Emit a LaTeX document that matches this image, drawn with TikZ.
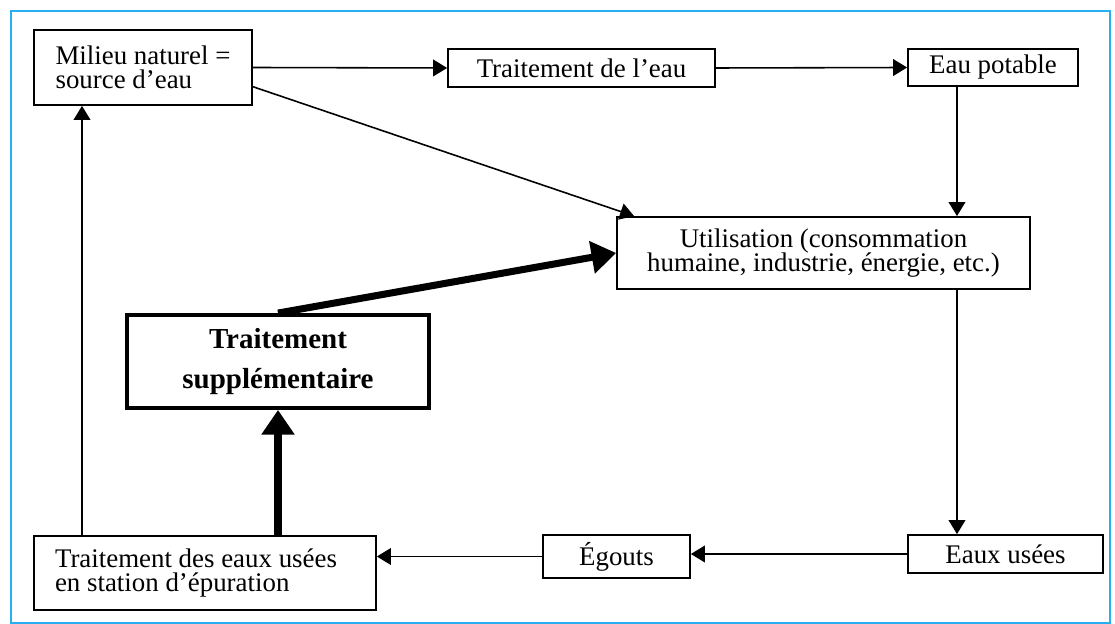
\documentclass[tikz,border=0pt]{standalone}
\usepackage{fontspec}
\setmainfont{Liberation Serif}
\usetikzlibrary{arrows.meta,calc}
\definecolor{framecyan}{RGB}{40,175,240}
\tikzset{
	box/.style={draw, line width=1pt, inner sep=0pt, align=center,
		font=\fontsize{15.3}{14}\selectfont},
	bigbox/.style={draw, line width=2.2pt, inner sep=0pt, align=center,
		font=\bfseries\fontsize{16.5}{23}\selectfont},
	flow/.style={->, line width=0.9pt},
	bigflow/.style={-{Triangle[length=14pt,width=18pt]}, line width=4pt},
}

\begin{document}
\begin{tikzpicture}[>={Triangle[length=8pt,width=9.5pt]}, x=0.02cm, y=-0.02cm]
\useasboundingbox (0,0) rectangle (1115,624);
% the shapes
\node[box, align=flush left, minimum width=4.36cm, minimum height=1.5cm] at (143,67.5) (milieu) {Milieu naturel =\\source d’eau};
\node[box, minimum width=5.34cm, minimum height=0.76cm] at (581.5,68) (eau) {Traitement de l’eau};
\node[box, minimum width=3.4cm, minimum height=0.74cm] at (993,67.5) (potable) {Eau potable};
\node[box, minimum width=8.26cm, minimum height=1.44cm] at (823.5,253) (util) {Utilisation (consommation\\humaine, industrie, énergie, etc.)};
\node[bigbox, minimum width=6.04cm, minimum height=1.86cm] at (278,361.5) (supp) {Traitement\\supplémentaire};
\node[box, align=flush left, text width=6cm, minimum width=6.84cm, minimum height=1.48cm] at (205,573) (station) {Traitement des eaux usées\\en station d’épuration};
\node[box, minimum width=2.94cm, minimum height=0.86cm] at (616.5,556.5) (egouts) {Égouts};
\node[box, minimum width=3.9cm, minimum height=0.76cm] at (1005.5,554) (usees) {Eaux usées};
\coordinate (right) at (957,300);
\coordinate (left) at (82,300);

% the arrows
\draw[flow] (milieu.east) -- (eau.west);
\draw[flow] (eau.east) -- (potable.west);
\draw[flow] (potable.south -| right) -- (util.north -| right);
\draw[flow] ($(milieu.east)!.5!(milieu.south east)$) -- ($(util.north west)+(18,0)$);
\draw[flow] (util.south -| right) -- (usees.north -| right);
\draw[flow] (usees.west) -- (usees.west -| egouts.east);
\draw[flow] (egouts.west) -- (egouts.west -| station.east);
\draw[flow] (station.north -| left) -- (milieu.south -| left);
\draw[bigflow] (station.north -| supp.south) -- (supp.south);
\draw[bigflow] (supp.north) -- (util.west);

% the frame
\draw[framecyan, line width=1.5pt] (11,11) rectangle (1110,623);
\end{tikzpicture}
\end{document}
